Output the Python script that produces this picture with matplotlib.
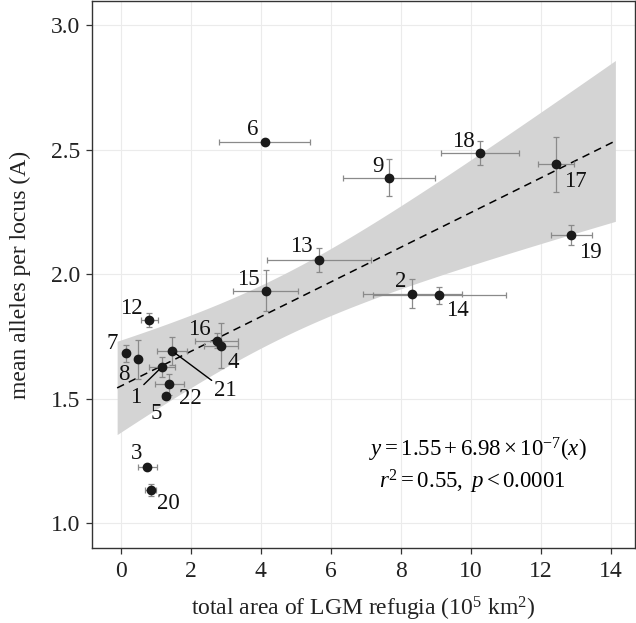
#!/usr/bin/env python3
"""Mean alleles per locus vs total area of LGM refugia, with linear fit + 95% CI."""

import matplotlib
matplotlib.use("Agg")
import matplotlib.pyplot as plt
import numpy as np

plt.rcParams["font.family"] = ["Liberation Serif", "DejaVu Serif"]
plt.rcParams["mathtext.fontset"] = "custom"
plt.rcParams["mathtext.rm"] = "Liberation Serif"
plt.rcParams["mathtext.it"] = "Liberation Serif:italic"

# population id, refugia area (10^5 km^2) +/- err, mean alleles per locus +/- err
POP_ID = [1, 2, 3, 4, 5, 6, 7, 8, 9, 12, 13, 14, 15, 16, 17, 18, 19, 20, 21, 22]
AREA = [1.18, 8.33, 0.76, 2.87, 1.29, 4.12, 0.14, 0.50, 7.67, 0.82,
        5.67, 9.10, 4.14, 2.74, 12.44, 10.27, 12.87, 0.86, 1.46, 1.39]
AREA_ERR = [0.38, 1.42, 0.27, 0.48, 0.10, 1.30, 0.05, 0.05, 1.32, 0.24,
            1.49, 1.90, 0.92, 0.62, 0.51, 1.11, 0.59, 0.16, 0.43, 0.42]
ALLELES = [1.628, 1.922, 1.227, 1.713, 1.511, 2.532, 1.682, 1.658, 2.387, 1.816,
           2.057, 1.915, 1.934, 1.732, 2.441, 2.485, 2.157, 1.134, 1.693, 1.558]
ALLELES_ERR = [0.040, 0.057, 0.005, 0.090, 0.010, 0.0, 0.034, 0.079, 0.074, 0.027,
               0.048, 0.034, 0.083, 0.030, 0.110, 0.049, 0.042, 0.024, 0.056, 0.041]

FIT_X_RANGE = (-0.1, 14.13)
EQUATION = r"$y = 1.55 + 6.98 \times 10^{-7}(x)$"
STATS = r"$r^2 = 0.55,\ p < 0.0001$"

X_TICKS = [0, 2, 4, 6, 8, 10, 12, 14]
Y_TICKS = [1.0, 1.5, 2.0, 2.5, 3.0]

# label offsets from the point, in pixels (right, down)
LABEL_OFFSET_PX = {
    1: (-26, 31), 2: (-12, -12), 3: (-11, -13), 4: (12, 17), 5: (-10, 17),
    6: (-12, -12), 7: (-13, -10), 8: (-14, 15), 9: (-11, -11), 12: (-18, -12),
    13: (-18, -13), 14: (18, 15), 15: (-17, -11), 16: (-17, -11), 17: (19, 17),
    18: (-17, -12), 19: (19, 17), 20: (18, 14), 21: (54, 40), 22: (21, 14),
}
LEADER_RELPOS = {1: (0.85, 0.95), 21: (0.05, 0.85)}

GRID = "#ebebeb"
BAND = "#d4d4d4"
ERR = "#8a8a8a"
POINT = "#1a1a1a"
SPINE = "#333333"


def fit_with_band(x, y, xs, level_t=2.086):
    coef = np.polyfit(x, y, 1)
    resid = y - np.polyval(coef, x)
    n = len(x)
    s = np.sqrt(np.sum(resid ** 2) / (n - 2))
    sxx = np.sum((x - x.mean()) ** 2)
    se = s * np.sqrt(1.0 / n + (xs - x.mean()) ** 2 / sxx)
    yhat = np.polyval(coef, xs)
    return yhat, yhat - level_t * se, yhat + level_t * se


fig = plt.figure(figsize=(6.36, 6.23), dpi=100)
ax = fig.add_axes([0.1451, 0.1199, 0.8533, 0.8785])

x = np.array(AREA)
y = np.array(ALLELES)
xs = np.linspace(FIT_X_RANGE[0], FIT_X_RANGE[1], 200)
yhat, lo, hi = fit_with_band(x, y, xs)

ax.fill_between(xs, lo, hi, color=BAND, linewidth=0, zorder=1)
ax.plot(xs, yhat, color="black", linewidth=1.1, linestyle=(0, (5, 3.5)), zorder=2)

ax.errorbar(x, y, xerr=AREA_ERR, yerr=ALLELES_ERR, fmt="none", ecolor=ERR,
            elinewidth=0.9, capsize=2.5, capthick=0.9, zorder=3)
ax.plot(x, y, "o", color=POINT, markersize=6, zorder=4)

for pid, px, py in zip(POP_ID, AREA, ALLELES):
    dx, dy = LABEL_OFFSET_PX[pid]
    kw = {}
    if pid in LEADER_RELPOS:
        kw["arrowprops"] = dict(arrowstyle="-", color="black", lw=1.0,
                                shrinkA=0, shrinkB=3, relpos=LEADER_RELPOS[pid])
    ax.annotate(str(pid), (px, py), xytext=(dx * 0.72, -dy * 0.72),
                textcoords="offset points", ha="center", va="center",
                fontsize=16.5, color="#111111", zorder=5, **kw)

ax.text(10.2, 1.294, EQUATION, ha="center", va="center", fontsize=16.5)
ax.text(10.05, 1.166, STATS, ha="center", va="center", fontsize=16.5)

ax.set_xlim(-0.81, 14.69)
ax.set_ylim(0.90, 3.096)
ax.set_xticks(X_TICKS)
ax.set_yticks(Y_TICKS)
ax.set_yticklabels([f"{v:.1f}" for v in Y_TICKS])
ax.grid(True, color=GRID, linewidth=0.8)
ax.set_axisbelow(True)
for sp in ax.spines.values():
    sp.set_color(SPINE)
    sp.set_linewidth(1.0)
ax.tick_params(axis="both", direction="out", length=4.5, width=0.9,
               color=SPINE, labelsize=17, labelcolor="#222222")
ax.tick_params(axis="x", pad=5)
ax.tick_params(axis="y", pad=4)

ax.set_xlabel(r"total area of LGM refugia (10$^{5}$ km$^{2}$)", fontsize=17, color="#222222")
ax.set_ylabel("mean alleles per locus (A)", fontsize=17, color="#222222")
ax.xaxis.label.set_va("baseline")
ax.xaxis.set_label_coords(0.5, -0.122)
ax.yaxis.set_label_coords(-0.113, 0.5)

fig.savefig("out.png", dpi=100)
